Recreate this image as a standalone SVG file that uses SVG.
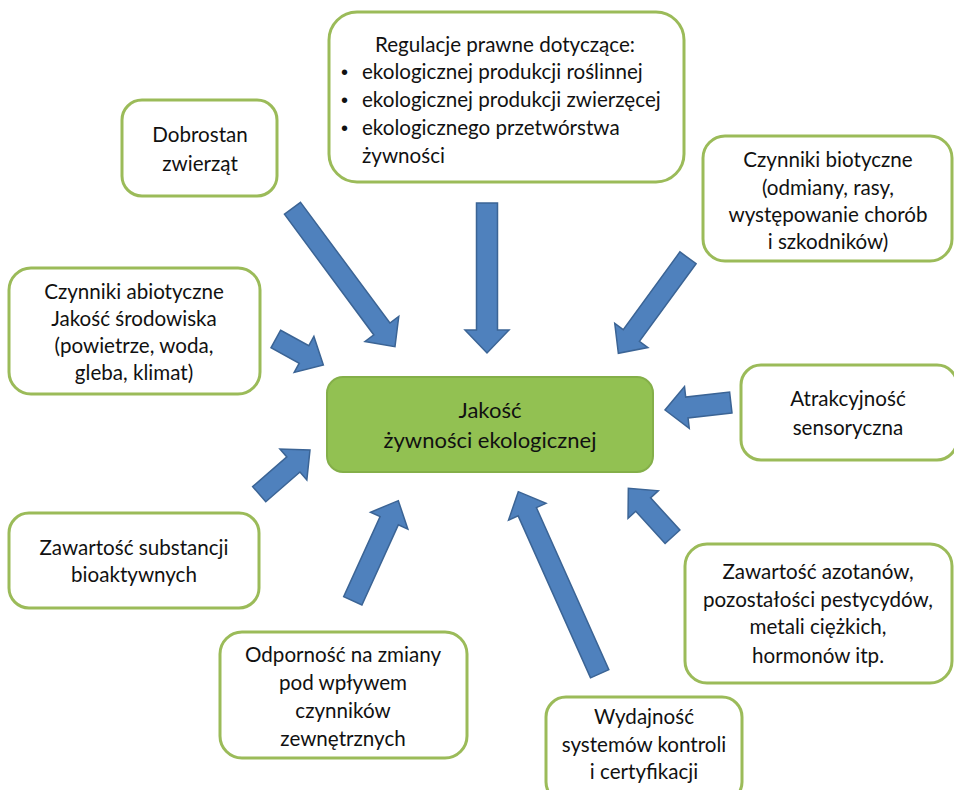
<svg xmlns="http://www.w3.org/2000/svg" width="954" height="790" viewBox="0 0 954 790">
<style>
.box{fill:#fff;stroke:#9BBB59;stroke-width:3}
.ctr{fill:#92C152;stroke:#84AF49;stroke-width:2}
.t{font-family:Lato,"Liberation Sans",sans-serif;font-size:20.6px;fill:#111;text-anchor:middle}
.tl{font-family:Lato,"Liberation Sans",sans-serif;font-size:20.6px;fill:#111}
.b{font-family:"Liberation Sans",sans-serif;font-size:20px;fill:#111}
.tc{font-family:Lato,"Liberation Sans",sans-serif;font-size:22px;fill:#111;text-anchor:middle}
.arr{fill:#4F81BD;stroke:#3B6495;stroke-width:1.5;stroke-linejoin:miter}
</style>
<rect width="954" height="790" fill="#fff"/>
<g id="connectors">
<path class="arr" transform="translate(292.5,208.3) rotate(53.48)" d="M0,-10 L150.2,-10 L150.2,-21 L172.2,0 L150.2,21 L150.2,10 L0,10 Z"/>
<path class="arr" transform="translate(487,203) rotate(90)" d="M0,-10.5 L127,-10.5 L127,-22 L150,0 L127,22 L127,10.5 L0,10.5 Z"/>
<path class="arr" transform="translate(688,257.8) rotate(126.1)" d="M0,-10 L96.2,-10 L96.2,-20.5 L118.2,0 L96.2,20.5 L96.2,10 L0,10 Z"/>
<path class="arr" transform="translate(275.8,339) rotate(28.7)" d="M0,-10 L32.2,-10 L32.2,-20.5 L54.2,0 L32.2,20.5 L32.2,10 L0,10 Z"/>
<path class="arr" transform="translate(730.8,402.5) rotate(173.5)" d="M0,-10.5 L44.2,-10.5 L44.2,-21 L66.2,0 L44.2,21 L44.2,10.5 L0,10.5 Z"/>
<path class="arr" transform="translate(259.2,494.2) rotate(-41)" d="M0,-10 L45.3,-10 L45.3,-20.5 L67.3,0 L45.3,20.5 L45.3,10 L0,10 Z"/>
<path class="arr" transform="translate(352.8,600.8) rotate(-65.56)" d="M0,-10 L88,-10 L88,-20.5 L110,0 L88,20.5 L88,10 L0,10 Z"/>
<path class="arr" transform="translate(599.7,673.8) rotate(-114.08)" d="M0,-10 L177.5,-10 L177.5,-20.5 L199.5,0 L177.5,20.5 L177.5,10 L0,10 Z"/>
<path class="arr" transform="translate(672.5,536.7) rotate(-132.4)" d="M0,-10 L43.5,-10 L43.5,-20.5 L65.5,0 L43.5,20.5 L43.5,10 L0,10 Z"/>
</g>
<g id="regulacje">
<rect class="box" x="329" y="12" width="355" height="170" rx="28"/>
<text class="t" x="505" y="52">Regulacje prawne dotyczące:</text>
<text class="b" x="341" y="79">•</text><text class="tl" x="362" y="79">ekologicznej produkcji roślinnej</text>
<text class="b" x="341" y="107">•</text><text class="tl" x="362" y="107">ekologicznej produkcji zwierzęcej</text>
<text class="b" x="341" y="135">•</text><text class="tl" x="362" y="135">ekologicznego przetwórstwa</text>
<text class="tl" x="362" y="163">żywności</text>
</g>
<g id="dobrostan">
<rect class="box" x="122" y="100" width="155" height="96" rx="20"/>
<text class="t" x="200" y="142">Dobrostan</text>
<text class="t" x="200" y="171">zwierząt</text>
</g>
<g id="biotyczne">
<rect class="box" x="703" y="136" width="249" height="125" rx="22"/>
<text class="t" x="828" y="167">Czynniki biotyczne</text>
<text class="t" x="828" y="195">(odmiany, rasy,</text>
<text class="t" x="828" y="222">występowanie chorób</text>
<text class="t" x="828" y="249">i szkodników)</text>
</g>
<g id="abiotyczne">
<rect class="box" x="9" y="268" width="251" height="126" rx="22"/>
<text class="t" x="134" y="299">Czynniki abiotyczne</text>
<text class="t" x="134" y="326">Jakość środowiska</text>
<text class="t" x="134" y="353">(powietrze, woda,</text>
<text class="t" x="134" y="380">gleba, klimat)</text>
</g>
<g id="centrum">
<rect class="ctr" x="327" y="377" width="326" height="95" rx="16"/>
<text class="tc" x="490" y="418">Jakość</text>
<text class="tc" x="490" y="448">żywności ekologicznej</text>
</g>
<g id="atrakcyjnosc">
<rect class="box" x="741" y="365" width="216" height="95" rx="20"/>
<text class="t" x="848" y="406">Atrakcyjność</text>
<text class="t" x="848" y="435">sensoryczna</text>
</g>
<g id="substancje">
<rect class="box" x="9" y="513" width="250" height="95" rx="20"/>
<text class="t" x="134" y="555">Zawartość substancji</text>
<text class="t" x="134" y="582">bioaktywnych</text>
</g>
<g id="azotany">
<rect class="box" x="685" y="544" width="267" height="139" rx="22"/>
<text class="t" x="818" y="579">Zawartość azotanów,</text>
<text class="t" x="818" y="607">pozostałości pestycydów,</text>
<text class="t" x="818" y="634">metali ciężkich,</text>
<text class="t" x="818" y="663">hormonów itp.</text>
</g>
<g id="odpornosc">
<rect class="box" x="220" y="632" width="247" height="126" rx="22"/>
<text class="t" x="343" y="662">Odporność na zmiany</text>
<text class="t" x="343" y="690">pod wpływem</text>
<text class="t" x="343" y="718">czynników</text>
<text class="t" x="343" y="746">zewnętrznych</text>
</g>
<g id="wydajnosc">
<rect class="box" x="546" y="697" width="196" height="105" rx="20"/>
<text class="t" x="644" y="724">Wydajność</text>
<text class="t" x="644" y="752">systemów kontroli</text>
<text class="t" x="644" y="779">i certyfikacji</text>
</g>
</svg>
